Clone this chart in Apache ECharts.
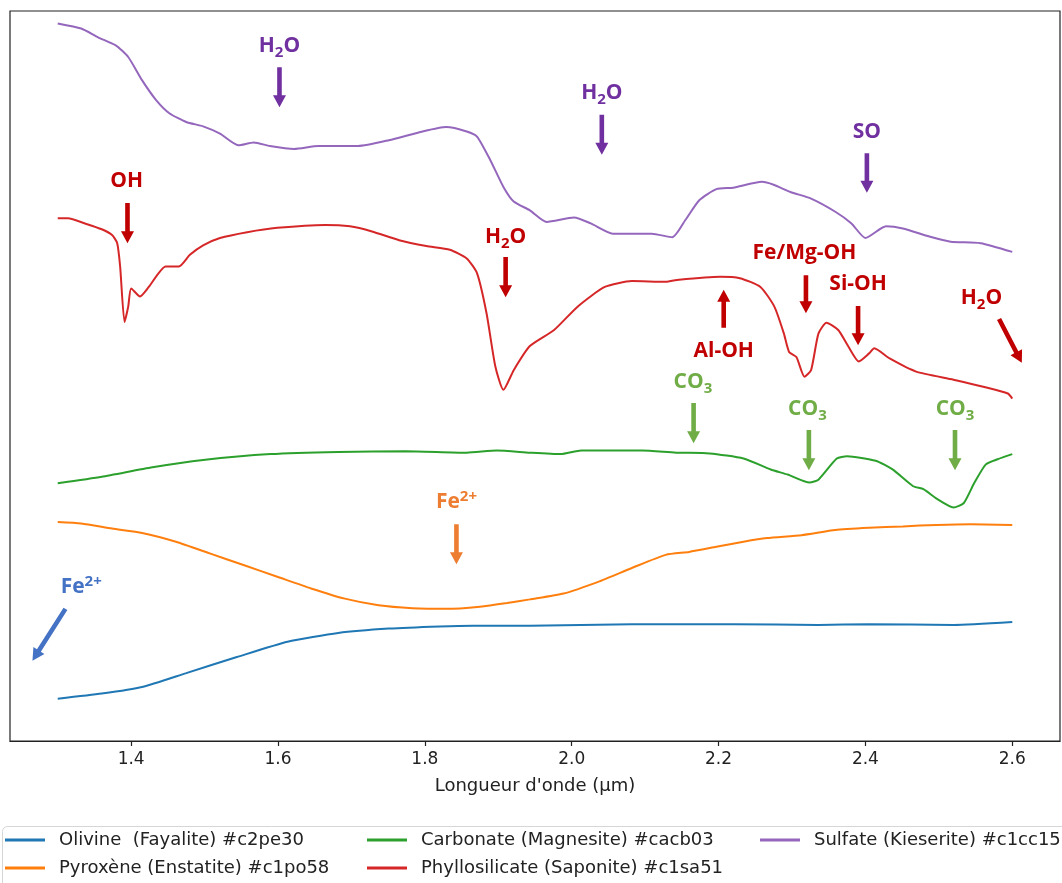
<!DOCTYPE html>
<html><head><meta charset="utf-8">
<script src="https://cdn.jsdelivr.net/npm/echarts@6/dist/echarts.min.js"></script>
<style>html,body{margin:0;padding:0;background:#fff}#c{width:1062px;height:883px}</style>
</head><body><div id="c"></div>
<script>
// ---- data (wavelength µm, relative reflectance, offset for clarity) ----
const xTicks = [1.4, 1.6, 1.8, 2.0, 2.2, 2.4, 2.6];
const seriesNames = ['Olivine  (Fayalite) #c2pe30', 'Pyroxène (Enstatite) #c1po58', 'Carbonate (Magnesite) #cacb03', 'Phyllosilicate (Saponite) #c1sa51', 'Sulfate (Kieserite) #c1cc15'];
const seriesColors = ['#1f77b4', '#ff7f0e', '#2ca02c', '#d62728', '#9467bd'];

const olivine = [[1.300,0.058],[1.360,0.065],[1.415,0.074],[1.475,0.093],[1.544,0.115],[1.613,0.136],[1.682,0.148],[1.751,0.154],[1.820,0.157],[1.866,0.158],[1.943,0.158],[2.082,0.160],[2.220,0.160],[2.336,0.159],[2.405,0.160],[2.520,0.159],[2.600,0.163]];
const pyroxene = [[1.300,0.300],[1.332,0.298],[1.374,0.291],[1.415,0.285],[1.461,0.273],[1.507,0.257],[1.553,0.241],[1.599,0.225],[1.645,0.209],[1.691,0.195],[1.737,0.186],[1.783,0.182],[1.829,0.181],[1.875,0.184],[1.912,0.189],[1.943,0.194],[1.989,0.202],[2.036,0.218],[2.082,0.237],[2.128,0.255],[2.160,0.259],[2.197,0.266],[2.234,0.273],[2.266,0.278],[2.313,0.282],[2.359,0.289],[2.405,0.292],[2.451,0.294],[2.497,0.296],[2.543,0.297],[2.600,0.296]];
const carbonate = [[1.300,0.353],[1.360,0.362],[1.429,0.375],[1.498,0.385],[1.590,0.393],[1.682,0.396],[1.774,0.397],[1.857,0.395],[1.898,0.398],[1.943,0.395],[1.985,0.393],[2.013,0.398],[2.096,0.398],[2.142,0.395],[2.188,0.394],[2.234,0.387],[2.271,0.372],[2.294,0.365],[2.324,0.354],[2.336,0.358],[2.361,0.387],[2.375,0.390],[2.414,0.384],[2.437,0.372],[2.465,0.349],[2.479,0.345],[2.497,0.332],[2.520,0.320],[2.534,0.326],[2.548,0.353],[2.564,0.379],[2.580,0.386],[2.600,0.393]];
const phyllosilicate = [[1.300,0.716],[1.314,0.716],[1.337,0.709],[1.360,0.701],[1.374,0.693],[1.381,0.682],[1.385,0.650],[1.391,0.574],[1.396,0.595],[1.400,0.620],[1.412,0.609],[1.424,0.622],[1.447,0.650],[1.465,0.650],[1.480,0.666],[1.498,0.679],[1.521,0.689],[1.558,0.697],[1.599,0.703],[1.664,0.707],[1.698,0.705],[1.728,0.698],[1.765,0.686],[1.802,0.678],[1.834,0.673],[1.857,0.661],[1.871,0.641],[1.884,0.586],[1.896,0.513],[1.907,0.481],[1.921,0.508],[1.943,0.541],[1.976,0.563],[2.008,0.595],[2.045,0.622],[2.082,0.630],[2.128,0.629],[2.146,0.632],[2.202,0.636],[2.229,0.634],[2.257,0.622],[2.276,0.595],[2.289,0.558],[2.296,0.533],[2.306,0.526],[2.317,0.499],[2.326,0.508],[2.336,0.558],[2.347,0.573],[2.363,0.563],[2.377,0.540],[2.391,0.520],[2.405,0.531],[2.412,0.538],[2.433,0.524],[2.469,0.506],[2.520,0.495],[2.562,0.485],[2.594,0.476],[2.600,0.469]];
const sulfate = [[1.300,0.983],[1.332,0.976],[1.355,0.964],[1.379,0.953],[1.396,0.937],[1.415,0.905],[1.434,0.878],[1.452,0.860],[1.475,0.848],[1.498,0.842],[1.521,0.832],[1.546,0.816],[1.567,0.820],[1.589,0.815],[1.622,0.811],[1.655,0.815],[1.709,0.815],[1.751,0.823],[1.797,0.835],[1.829,0.841],[1.857,0.835],[1.871,0.828],[1.889,0.796],[1.907,0.759],[1.921,0.739],[1.943,0.727],[1.966,0.711],[2.003,0.717],[2.026,0.709],[2.056,0.695],[2.109,0.695],[2.137,0.690],[2.155,0.714],[2.174,0.741],[2.197,0.756],[2.220,0.758],[2.259,0.766],[2.275,0.762],[2.298,0.752],[2.326,0.743],[2.359,0.725],[2.381,0.709],[2.400,0.689],[2.428,0.705],[2.451,0.702],[2.487,0.691],[2.516,0.684],[2.557,0.682],[2.600,0.670]];

// absorption band annotations: label (rich text), colour, label centre, arrow start, arrow tip (data coords)
const annotations = [
  {label:'{m|H}{s|2}{m|O}', color:'#7030a0', at:[1.602,0.952], from:[1.602,0.923], to:[1.602,0.868]},
  {label:'{m|H}{s|2}{m|O}', color:'#7030a0', at:[2.041,0.888], from:[2.041,0.858], to:[2.041,0.803]},
  {label:'{m|SO}',           color:'#7030a0', at:[2.402,0.834], from:[2.402,0.805], to:[2.402,0.751]},
  {label:'{m|OH}',           color:'#c00000', at:[1.394,0.767], from:[1.395,0.737], to:[1.395,0.682]},
  {label:'{m|H}{s|2}{m|O}', color:'#c00000', at:[1.910,0.690], from:[1.910,0.663], to:[1.910,0.608]},
  {label:'{m|Fe/Mg-OH}',     color:'#c00000', at:[2.317,0.668], from:[2.319,0.638], to:[2.319,0.586]},
  {label:'{m|Si-OH}',        color:'#c00000', at:[2.390,0.626], from:[2.390,0.596], to:[2.390,0.542]},
  {label:'{m|Al-OH}',        color:'#c00000', at:[2.207,0.534], from:[2.207,0.566], to:[2.207,0.618]},
  {label:'{m|H}{s|2}{m|O}', color:'#c00000', at:[2.558,0.607], from:[2.582,0.578], to:[2.613,0.518]},
  {label:'{m|CO}{s|3}',      color:'#70ad47', at:[2.165,0.492], from:[2.166,0.463], to:[2.166,0.408]},
  {label:'{m|CO}{s|3}',      color:'#70ad47', at:[2.321,0.455], from:[2.323,0.426], to:[2.323,0.371]},
  {label:'{m|CO}{s|3}',      color:'#70ad47', at:[2.522,0.455], from:[2.522,0.426], to:[2.522,0.371]},
  {label:'{q|Fe}{p|2+}',     color:'#ed7d31', at:[1.843,0.327], from:[1.843,0.297], to:[1.843,0.242]},
  {label:'{q|Fe}{p|2+}',     color:'#4472c4', at:[1.332,0.211], from:[1.3105,0.181], to:[1.2656,0.110]}
];

const seriesData = [olivine, pyroxene, carbonate, phyllosilicate, sulfate];
const chart = echarts.init(document.getElementById('c'), null, {renderer:'canvas'});
const mplFont = 'DejaVu Sans';

function legendCol(names, left) {
  return {
    data: names, left: left, top: 830, orient: 'vertical', padding: 0, itemGap: 8,
    icon: 'rect', itemWidth: 40, itemHeight: 3, selectedMode: false,
    textStyle: {fontFamily: mplFont, fontSize: 18, color: '#222', lineHeight: 20, padding: [0,0,0,9]}
  };
}

const option = {
  animation: false,
  backgroundColor: '#fff',
  grid: {left: 10, right: 2, top: 11, bottom: 142, show: true, borderColor: '#222', borderWidth: 1.2, backgroundColor: 'transparent'},
  xAxis: {
    type: 'value', min: 1.235, max: 2.665,
    axisLine: {lineStyle: {color: '#222', width: 1.2}},
    axisTick: {show: true, length: 5, lineStyle: {color: '#222', width: 1.2}, customValues: xTicks},
    axisLabel: {customValues: xTicks, formatter: v => v.toFixed(1), fontFamily: mplFont, fontSize: 17, color: '#222', margin: 10},
    splitLine: {show: false},
    name: "Longueur d'onde (µm)", nameLocation: 'middle', nameGap: 36,
    nameTextStyle: {fontFamily: mplFont, fontSize: 18, color: '#222'}
  },
  yAxis: {type: 'value', min: 0, max: 1, show: false},
  legend: [
    legendCol([seriesNames[0], seriesNames[1]], 5),
    legendCol([seriesNames[2], seriesNames[3]], 367),
    legendCol([seriesNames[4]], 760)
  ],
  series: seriesData.map((d, i) => ({
    name: seriesNames[i], type: 'line', data: d, color: seriesColors[i],
    showSymbol: false, symbol: 'none', smooth: 0.2,
    lineStyle: {width: 2, color: seriesColors[i]}
  }))
};
chart.setOption(option);

function arrowPoints(p0, p1) {
  const dx = p1[0]-p0[0], dy = p1[1]-p0[1];
  const L = Math.sqrt(dx*dx+dy*dy);
  const ux = dx/L, uy = dy/L, nx = -uy, ny = ux;
  const w = 2.3, hw = 6.5, hl = 12;
  const bx = p1[0]-ux*hl, by = p1[1]-uy*hl;
  return [
    [p0[0]+nx*w, p0[1]+ny*w], [bx+nx*w, by+ny*w], [bx+nx*hw, by+ny*hw], [p1[0], p1[1]],
    [bx-nx*hw, by-ny*hw], [bx-nx*w, by-ny*w], [p0[0]-nx*w, p0[1]-ny*w]
  ];
}

const annFont = '"Open Sans", "Noto Sans", sans-serif';
const graphics = [{
  type: 'rect', shape: {x: 2.5, y: 826.5, width: 1100, height: 100, r: 5},
  style: {fill: 'none', stroke: '#d6d6d6', lineWidth: 1}, silent: true
}];
annotations.forEach(a => {
  const tp = chart.convertToPixel({gridIndex: 0}, a.at);
  const p0 = chart.convertToPixel({gridIndex: 0}, a.from);
  const p1 = chart.convertToPixel({gridIndex: 0}, a.to);
  graphics.push({type: 'polygon', shape: {points: arrowPoints(p0, p1)}, style: {fill: a.color}, silent: true, z: 10});
  graphics.push({
    type: 'text', x: tp[0], y: tp[1], silent: true, z: 10,
    style: {
      text: a.label, align: 'center', verticalAlign: 'middle', fill: a.color,
      fontFamily: annFont, fontWeight: 'bold', fontSize: 21,
      rich: {
        m: {fill: a.color, fontFamily: annFont, fontWeight: 'bold', fontSize: 21, lineHeight: 28},
        s: {fill: a.color, fontFamily: annFont, fontWeight: 'bold', fontSize: 15, lineHeight: 15, verticalAlign: 'bottom'},
        q: {fill: a.color, fontFamily: annFont, fontWeight: 'bold', fontSize: 21, lineHeight: 26},
        p: {fill: a.color, fontFamily: annFont, fontWeight: 'bold', fontSize: 15, lineHeight: 15, verticalAlign: 'top'}
      }
    }
  });
});
chart.setOption({graphic: graphics});
</script>
</body></html>
